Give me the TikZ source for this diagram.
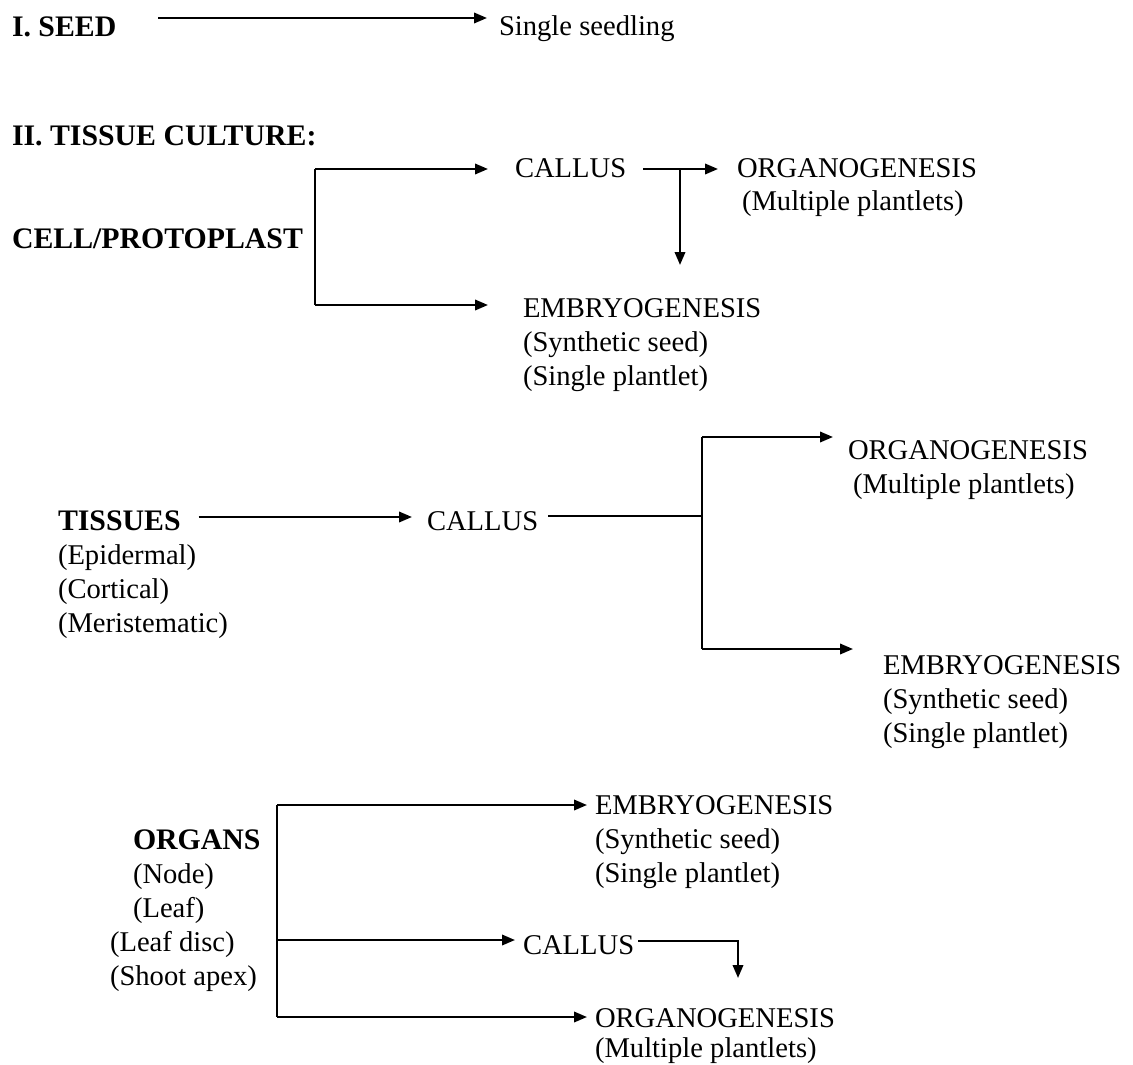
\documentclass[tikz,border=0pt]{standalone}
\usepackage{fontspec}
\setmainfont{Liberation Serif}
\usetikzlibrary{arrows.meta,calc}
\begin{document}
\begin{tikzpicture}[x=0.5pt,y=-0.5pt,
  txt/.style={inner sep=0pt,outer sep=0pt,anchor=base west,font=\fontsize{14.3}{17}\selectfont},
  hd/.style={txt,font=\fontsize{14.9}{17}\selectfont\bfseries},
  ln/.style={line width=1.15pt},
  arr/.style={ln,-{Triangle[length=6.5pt,width=5.2pt]}}]
\useasboundingbox (0,0) rectangle (1133,1064);
\fill[white] (0,0) rectangle (1133,1064);

% Section I
\node[hd] (seed) at (12,37) {I. SEED};
\node[txt] (seedling) at (499,36) {Single seedling};
\draw[arr] ($(seed.base east)+(42,-19)$) -- ($(seedling.base west)+(-12,-18)$);

% Section II, cell/protoplast
\node[hd] (tc) at (12,146) {II. TISSUE CULTURE:};
\node[hd] (cell) at (12,248) {CELL/PROTOPLAST};
\node[txt] (cal1) at (515,177) {CALLUS};
\node[txt] (org1) at (737,177) {ORGANOGENESIS};
\node[txt] (mul1) at (742,211) {(Multiple plantlets)};
\node[txt] (emb1) at (523,317) {EMBRYOGENESIS};
\node[txt] (syn1) at (523,351) {(Synthetic seed)};
\node[txt] (sin1) at (523,385) {(Single plantlet)};
\coordinate (b1t) at (315,169);
\coordinate (b1b) at (315,305);
\coordinate (v1) at (680,169);
\coordinate (v1e) at (680,265);
\draw[ln] (b1t) -- (b1b);
\draw[arr] (b1t) -- ($(cal1.base west)+(-27,-8)$);
\draw[arr] (b1b) -- ($(emb1.base west)+(-35,-12)$);
\draw[arr] ($(cal1.base east)+(17,-8)$) -- ($(org1.base west)+(-19,-8)$);
\draw[arr] (v1) -- (v1e);

% Tissues
\node[hd] (tis) at (58,530) {TISSUES};
\node[txt] (epi) at (58,564) {(Epidermal)};
\node[txt] (cor) at (58,598) {(Cortical)};
\node[txt] (mer) at (58,632) {(Meristematic)};
\node[txt] (cal2) at (427,530) {CALLUS};
\node[txt] (org2) at (848,459) {ORGANOGENESIS};
\node[txt] (mul2) at (853,493) {(Multiple plantlets)};
\node[txt] (emb2) at (883,674) {EMBRYOGENESIS};
\node[txt] (syn2) at (883,708) {(Synthetic seed)};
\node[txt] (sin2) at (883,742) {(Single plantlet)};
\coordinate (j2) at (702,516);
\coordinate (j2t) at (702,437);
\coordinate (j2b) at (702,649);
\draw[arr] ($(tis.base east)+(18,-13)$) -- ($(cal2.base west)+(-15,-13)$);
\draw[ln] ($(cal2.base east)+(10,-14)$) -- (j2);
\draw[ln] (j2t) -- (j2b);
\draw[arr] (j2t) -- ($(org2.base west)+(-15,-22)$);
\draw[arr] (j2b) -- ($(emb2.base west)+(-30,-25)$);

% Organs
\node[hd] (orgs) at (133,849) {ORGANS};
\node[txt] (nod) at (133,883) {(Node)};
\node[txt] (lea) at (133,917) {(Leaf)};
\node[txt] (dis) at (110,951) {(Leaf disc)};
\node[txt] (sho) at (110,985) {(Shoot apex)};
\node[txt] (emb3) at (595,814) {EMBRYOGENESIS};
\node[txt] (syn3) at (595,848) {(Synthetic seed)};
\node[txt] (sin3) at (595,882) {(Single plantlet)};
\node[txt] (cal3) at (523,954) {CALLUS};
\node[txt] (org3) at (595,1027) {ORGANOGENESIS};
\node[txt] (mul3) at (595,1057) {(Multiple plantlets)};
\coordinate (b3t) at (277,805);
\coordinate (b3m) at (277,940);
\coordinate (b3b) at (277,1017);
\coordinate (c3) at (738,941);
\coordinate (c3e) at (738,978);
\draw[ln] (b3t) -- (b3b);
\draw[arr] (b3t) -- ($(emb3.base west)+(-8,-9)$);
\draw[arr] (b3m) -- ($(cal3.base west)+(-8,-14)$);
\draw[arr] (b3b) -- ($(org3.base west)+(-8,-10)$);
\draw[arr] ($(cal3.base east)+(4,-13)$) -- (c3) -- (c3e);
\end{tikzpicture}
\end{document}
